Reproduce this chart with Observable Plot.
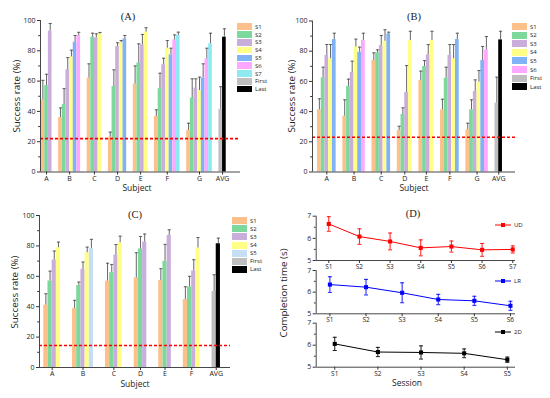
<!DOCTYPE html>
<html>
<head>
<meta charset="utf-8">
<script src="https://cdn.jsdelivr.net/npm/d3@7"></script>
<script src="https://cdn.jsdelivr.net/npm/@observablehq/plot@0.6"></script>
<style>
  html, body { margin: 0; padding: 0; background: #fff; }
  #root { position: relative; width: 550px; height: 398px; overflow: hidden; background: #fff; font-family: "Open Sans", sans-serif; }
  .lbl { position: absolute; white-space: nowrap; transform: translate(-50%, -50%); color: #222; line-height: 1; font-weight: normal; }
  .sw { position: absolute; }
  .lg { position: absolute; white-space: nowrap; font-size: 6px; color: #222; line-height: 1; transform: translateY(-50%); }
</style>
</head>
<body>
<div id="root"></div>
<script>
// ---------------- DATA ----------------
const subjectsAB = ["A", "B", "C", "D", "E", "F", "G", "AVG"];
const subjectsC = ["A", "B", "C", "D", "E", "F", "AVG"];
const avgLabels = ["First", "Last"];

// Panel (A): success rate (%) per session, and upper error
const meansA = [
  [47.5, 57, 93],
  [36, 44.5, 67.5, 76, 85.7, 90],
  [62, 89, 88.5, 91],
  [23, 56.4, 82.8, 85.3, 87.9],
  [58, 72, 84, 92.3],
  [36.6, 55, 70.8, 81.7, 77.3, 87.2, 90.1],
  [27.4, 48.8, 55.4, 53.8, 62, 74.6, 84.6],
  [41.3, 89]
];
const errsA = [
  [13, 7.5, 5],
  [6.3, 10.5, 8, 4.4, 4.4, 2.2],
  [9.4, 2.6, 2.7, 1.1],
  [3.3, 11, 2.5, 1.5, 2.2],
  [12, 12.6, 6.8, 2.9],
  [4.4, 10.2, 4.3, 5.1, 4.4, 3.3, 2.2],
  [4.8, 12.7, 6.1, 8.8, 9.4, 7.1, 7],
  [15, 5.5]
];
const chanceA = 22;

// Panel (B)
const meansB = [
  [41.2, 62.4, 77.2, 75, 87.7],
  [37, 56.6, 65.9, 82.7, 79.3, 87.1],
  [73.8, 78.9, 83.8, 86.6, 91.5],
  [27.5, 38.1, 52.8, 87.1],
  [60.6, 69.9, 77.6, 87.1],
  [41.2, 62.1, 77.2, 75, 87.7],
  [27.9, 41.2, 53.3, 59.5, 73.8, 80.9],
  [45.6, 87.5]
];
const errsB = [
  [7.3, 7, 7.2, 9.4, 4.2],
  [10.8, 4.9, 7.5, 5.3, 3.4, 4.8],
  [5.1, 2, 6.6, 7.6, 1.1],
  [2.8, 4.4, 17.7, 6.1],
  [6.2, 3.9, 6.8, 6.1],
  [7, 7.3, 7.2, 9.4, 4.2],
  [4.4, 6.6, 7.7, 7.7, 9.3, 8.8],
  [17.2, 5.7]
];
const chanceB = 23;

// Panel (C)
const meansC = [
  [41, 56.9, 70.8, 78.8],
  [38.7, 54, 64.6, 75.5, 78.3],
  [56.9, 62.4, 73.9, 82],
  [58.9, 78, 82.5],
  [57.3, 69.8, 86.9],
  [44.6, 53, 63.5, 78.6],
  [50, 81.4]
];
const errsC = [
  [7.5, 6.5, 5.8, 3.7],
  [5.5, 2.2, 4.8, 3.7, 6],
  [11.7, 5.4, 7, 4.4],
  [16.6, 8.2, 5.3],
  [7.7, 11.2, 3.7],
  [8.5, 7, 7.4, 6.9],
  [11, 3.7]
];
const chanceC = 14.5;

// Panel (D): completion time (s), mean and +/- error per session
const udMean = [6.65, 6.08, 5.86, 5.57, 5.63, 5.48, 5.5];
const udErr  = [0.33, 0.35, 0.38, 0.36, 0.25, 0.29, 0.16];
const lrMean = [6.35, 6.23, 5.97, 5.66, 5.6, 5.37];
const lrErr  = [0.36, 0.36, 0.46, 0.24, 0.21, 0.21];
const tdMean = [6.06, 5.69, 5.67, 5.63, 5.34];
const tdErr  = [0.3, 0.21, 0.3, 0.2, 0.12];

// ---------------- STYLE / LAYOUT ----------------
const seriesNames = ["S1", "S2", "S3", "S4", "S5", "S6", "S7", "First", "Last"];
const seriesColors = ["#FDC08A", "#7DD89C", "#C9AEDB", "#FFFF85", "#80B3F5", "#FFA8FF", "#8FE9F2", "#BFBFBF", "#000000"];
const seriesColorsC = ["#FDC08A", "#7DD89C", "#C9AEDB", "#FFFF85", "#C6DDF6", "#FFA8FF", "#8FE9F2", "#BFBFBF", "#000000"];
const FONT = "'Open Sans', sans-serif";
const SERIF = "'Liberation Serif', 'Times New Roman', serif";
const errColor = "#555";

const root = document.getElementById("root");

const capSymbol = {
  draw(ctx, size) {
    const r = Math.sqrt(size / Math.PI);
    ctx.moveTo(-r, 0);
    ctx.lineTo(r, 0);
  }
};

function buildRows(subjects, means, errs, gap) {
  const rows = [];
  const ticks = [];
  let pos = 0;
  subjects.forEach((s, i) => {
    const start = pos;
    means[i].forEach((m, j) => {
      const series = s === "AVG" ? avgLabels[j] : "S" + (j + 1);
      rows.push({ subject: s, series, x1: pos, x2: pos + 1, xc: pos + 0.5, mean: m, top: m + errs[i][j] });
      pos += 1;
    });
    ticks.push({ subject: s, x: (start + pos) / 2 });
    pos += gap;
  });
  return { rows, ticks };
}

function place(node, left, top) {
  node.style.position = "absolute";
  node.style.left = left + "px";
  node.style.top = top + "px";
  root.appendChild(node);
}

function addLabel(text, x, y, size, opts = {}) {
  const d = document.createElement("div");
  d.className = "lbl";
  d.textContent = text;
  d.style.left = x + "px";
  d.style.top = y + "px";
  d.style.fontSize = size + "px";
  d.style.fontFamily = opts.font || FONT;
  if (opts.rotate) d.style.transform = "translate(-50%, -50%) rotate(-90deg)";
  root.appendChild(d);
}

function addLegend(names, colors, x, y0, step, boxW, boxH) {
  names.forEach((n, i) => {
    const y = y0 + i * step;
    const sw = document.createElement("div");
    sw.className = "sw";
    sw.style.left = x + "px";
    sw.style.top = (y - boxH / 2) + "px";
    sw.style.width = boxW + "px";
    sw.style.height = boxH + "px";
    sw.style.background = colors[seriesNames.indexOf(n)];
    root.appendChild(sw);
    const t = document.createElement("div");
    t.className = "lg";
    t.textContent = n;
    t.style.left = (x + boxW + 3) + "px";
    t.style.top = y + "px";
    t.style.fontFamily = FONT;
    root.appendChild(t);
  });
}

function barPanel(cfg) {
  const { rows, ticks } = buildRows(cfg.subjects, cfg.means, cfg.errs, cfg.gap);
  const tickMap = new Map(ticks.map(t => [t.x, t.subject]));
  const chart = Plot.plot({
    width: cfg.width, height: cfg.height,
    marginLeft: cfg.ml, marginRight: cfg.mr, marginTop: cfg.mt, marginBottom: cfg.mb,
    x: { type: "linear", domain: cfg.xdomain, axis: null },
    y: { domain: [0, 100], axis: null },
    color: { domain: seriesNames, range: cfg.colors },
    style: { fontFamily: FONT, background: "transparent", overflow: "visible", color: "#222" },
    marks: [
      Plot.rectY(rows, { x1: "x1", x2: "x2", y1: 0, y2: "mean", fill: "series", insetLeft: 0, insetRight: 0 }),
      Plot.ruleX(rows, { x: "xc", y1: "mean", y2: "top", stroke: errColor, strokeWidth: 0.9 }),
      Plot.dot(rows, { x: "xc", y: "top", symbol: capSymbol, r: 1.6, stroke: errColor, strokeWidth: 0.9, fill: "none" }),
      Plot.ruleY([cfg.chance], { stroke: "#FF0000", strokeWidth: 1.6, strokeDasharray: "3,2" }),
      Plot.ruleY([0], { stroke: "#333", strokeWidth: 0.9 }),
      Plot.ruleX([cfg.xdomain[0]], { stroke: "#333", strokeWidth: 0.9 }),
      Plot.axisY({ ticks: [0, 20, 40, 60, 80, 100], tickSize: 3, tickPadding: 2, fontSize: 7, label: null, stroke: "#333" }),
      Plot.axisY({ ticks: [10, 30, 50, 70, 90], tickSize: 1.8, text: null, label: null, stroke: "#333" }),
      Plot.axisX(ticks.map(t => t.x), { tickSize: 3, tickPadding: 1, fontSize: 7, label: null, stroke: "#333", tickFormat: d => tickMap.get(d) })
    ]
  });
  place(chart, cfg.left, cfg.top);
}

function linePanel(cfg) {
  const data = cfg.mean.map((m, i) => ({ s: i + 1, mean: m, lo: m - cfg.err[i], hi: m + cfg.err[i] }));
  const chart = Plot.plot({
    width: cfg.width, height: cfg.height,
    marginLeft: cfg.ml, marginRight: cfg.mr, marginTop: cfg.mt, marginBottom: cfg.mb,
    x: { type: "linear", domain: cfg.xdomain, axis: null },
    y: { domain: [5, 7], axis: null },
    style: { fontFamily: FONT, background: "transparent", overflow: "visible", color: "#222" },
    marks: [
      Plot.ruleY([5], { stroke: "#333", strokeWidth: 0.9 }),
      Plot.ruleX([cfg.xdomain[0]], { stroke: "#333", strokeWidth: 0.9 }),
      Plot.axisY({ ticks: [5, 6, 7], tickSize: 3, tickPadding: 2, fontSize: 7, label: null, stroke: "#333", tickFormat: d => String(d) }),
      Plot.axisY({ ticks: [5.5, 6.5], tickSize: 1.8, text: null, label: null, stroke: "#333" }),
      Plot.axisX({ ticks: data.map(d => d.s), tickSize: 3, tickPadding: 1, fontSize: 6.5, label: null, stroke: "#333", tickFormat: d => "S" + d }),
      Plot.line(data, { x: "s", y: "mean", stroke: cfg.color, strokeWidth: 1 }),
      Plot.ruleX(data, { x: "s", y1: "lo", y2: "hi", stroke: cfg.color, strokeWidth: 0.9 }),
      Plot.dot(data, { x: "s", y: "lo", symbol: capSymbol, r: 2, stroke: cfg.color, strokeWidth: 0.9, fill: "none" }),
      Plot.dot(data, { x: "s", y: "hi", symbol: capSymbol, r: 2, stroke: cfg.color, strokeWidth: 0.9, fill: "none" }),
      Plot.dot(data, { x: "s", y: "mean", symbol: "square", r: 2.3, fill: cfg.color, stroke: "none" })
    ]
  });
  place(chart, cfg.left, cfg.top);
  const lg = document.createElementNS("http://www.w3.org/2000/svg", "svg");
  lg.setAttribute("width", 16); lg.setAttribute("height", 6);
  lg.innerHTML = `<line x1="0" y1="3" x2="16" y2="3" stroke="${cfg.color}" stroke-width="1"/><rect x="6" y="1" width="4" height="4" fill="${cfg.color}"/>`;
  lg.style.position = "absolute";
  lg.style.left = cfg.legX + "px";
  lg.style.top = (cfg.legY - 3) + "px";
  root.appendChild(lg);
  const t = document.createElement("div");
  t.className = "lg";
  t.textContent = cfg.name;
  t.style.left = (cfg.legX + 19) + "px";
  t.style.top = cfg.legY + "px";
  t.style.fontFamily = FONT;
  root.appendChild(t);
}

// Panel A
barPanel({ subjects: subjectsAB, means: meansA, errs: errsA, gap: 1.8, chance: chanceA, colors: seriesColors,
  left: 0, top: 0, width: 275, height: 200, ml: 40, mr: 35, mt: 20, mb: 28.5, xdomain: [-0.15, 54.5] });
addLegend(seriesNames, seriesColors, 237, 26.7, 7.8, 15, 6.6);
addLabel("(A)", 128, 17, 10.5, { font: SERIF });
addLabel("Success rate (%)", 17, 96, 9.8, { rotate: true });
addLabel("Subject", 137, 188, 8.5);

// Panel B
barPanel({ subjects: subjectsAB, means: meansB, errs: errsB, gap: 1.8, chance: chanceB, colors: seriesColors,
  left: 275, top: 0, width: 275, height: 200, ml: 37, mr: 35, mt: 20.5, mb: 28.5, xdomain: [-1.34, 53.1] });
addLegend(["S1", "S2", "S3", "S4", "S5", "S6", "First", "Last"], seriesColors, 512, 26.5, 8.6, 15, 7);
addLabel("(B)", 414, 17, 10.5, { font: SERIF });
addLabel("Success rate (%)", 292, 96, 9.8, { rotate: true });
addLabel("Subject", 414, 188, 8.5);

// Panel C
barPanel({ subjects: subjectsC, means: meansC, errs: errsC, gap: 2.85, chance: chanceC, colors: seriesColorsC,
  left: 0, top: 200, width: 275, height: 198, ml: 39, mr: 45, mt: 15, mb: 31, xdomain: [-1.02, 44.5] });
addLegend(["S1", "S2", "S3", "S4", "S5", "First", "Last"], seriesColorsC, 232, 220.7, 8.1, 15, 7);
addLabel("(C)", 135, 215, 10.5, { font: SERIF });
addLabel("Success rate (%)", 15, 292, 9.8, { rotate: true });
addLabel("Subject", 135, 384, 8.5);

// Panel D
linePanel({ name: "UD", mean: udMean, err: udErr, color: "#FF0000",
  left: 275, top: 205, width: 275, height: 67, ml: 40.7, mr: 35, mt: 10.7, mb: 12, xdomain: [0.59, 7.09], legX: 495, legY: 225 });
linePanel({ name: "LR", mean: lrMean, err: lrErr, color: "#0000FF",
  left: 275, top: 268, width: 275, height: 56, ml: 40.7, mr: 35, mt: 2, mb: 10.7, xdomain: [0.62, 6.14], legX: 495, legY: 281 });
linePanel({ name: "2D", mean: tdMean, err: tdErr, color: "#000000",
  left: 275, top: 320, width: 275, height: 60, ml: 40.7, mr: 35, mt: 2.7, mb: 13.3, xdomain: [0.57, 5.19], legX: 495, legY: 331.7 });
addLabel("(D)", 413, 214, 10.5, { font: SERIF });
addLabel("Completion time (s)", 284, 293, 9.8, { rotate: true });
addLabel("Session", 407, 383, 8.5);
</script>
</body>
</html>
